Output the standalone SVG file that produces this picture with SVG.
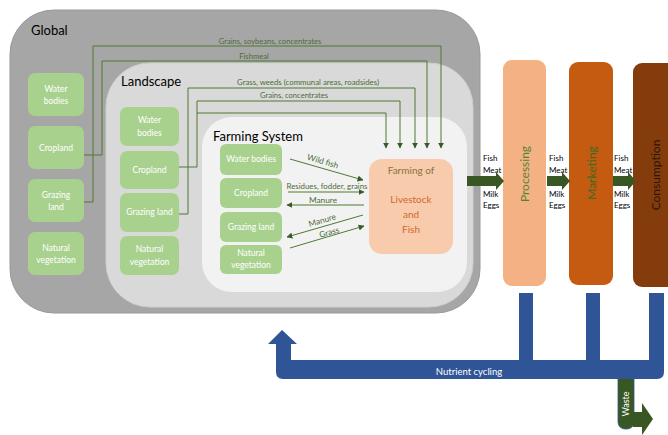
<svg xmlns="http://www.w3.org/2000/svg" width="668" height="435" viewBox="0 0 668 435">
<defs>
<style>
text{font-family:Lato,"Liberation Sans",sans-serif}
.title{font-size:13px;fill:#000}
.gb{fill:#a9d18e}
.gt{font-size:8.5px;fill:#ffffff;text-anchor:middle}
.ln{fill:none;stroke:#4f7a35;stroke-width:1}
.lbl{font-size:7.6px;fill:#4f6b35;text-anchor:middle}
.il{font-size:8.3px;fill:#4f6b35;text-anchor:middle}
.prod{font-size:8px;fill:#000}
.big{fill:#385723}
</style>
<marker id="ah" viewBox="0 0 10 10" refX="9" refY="5" markerWidth="6" markerHeight="6" orient="auto" markerUnits="userSpaceOnUse">
<path d="M0,0 L10,5 L0,10 Z" fill="#3a5a28"/>
</marker>
</defs>
<rect width="668" height="435" fill="#ffffff"/>

<g id="global">
<rect x="10" y="10" width="470" height="303" rx="44" fill="#a6a6a6" stroke="#9a9a9a" stroke-width="1"/>
<text class="title" x="31" y="35">Global</text>
</g>
<g id="landscape">
<rect x="106" y="63" width="367" height="244" rx="44" fill="#d9d9d9" stroke="#cfcfcf" stroke-width="1"/>
<text class="title" x="121" y="86">Landscape</text>
</g>
<g id="farming-system">
<rect x="202" y="117" width="265" height="175" rx="30" fill="#f2f2f2"/>
<text class="title" x="213" y="141">Farming System</text>
</g>

<g id="global-water"><rect class="gb" x="28" y="73" width="56" height="43" rx="7"/><text class="gt" x="56" y="92">Water</text><text class="gt" x="56" y="104">bodies</text></g>
<g id="global-cropland"><rect class="gb" x="28" y="126" width="56" height="43" rx="7"/><text class="gt" x="56" y="151">Cropland</text></g>
<g id="global-grazing"><rect class="gb" x="28" y="179" width="56" height="43" rx="7"/><text class="gt" x="56" y="198">Grazing</text><text class="gt" x="56" y="210">land</text></g>
<g id="global-natural"><rect class="gb" x="28" y="232" width="56" height="43" rx="7"/><text class="gt" x="56" y="251">Natural</text><text class="gt" x="56" y="263">vegetation</text></g>

<g id="land-water"><rect class="gb" x="120" y="107" width="59" height="39" rx="7"/><text class="gt" x="149.5" y="123">Water</text><text class="gt" x="149.5" y="136">bodies</text></g>
<g id="land-cropland"><rect class="gb" x="120" y="151" width="59" height="38" rx="7"/><text class="gt" x="149.5" y="173">Cropland</text></g>
<g id="land-grazing"><rect class="gb" x="120" y="193" width="59" height="39" rx="7"/><text class="gt" x="149.5" y="215">Grazing land</text></g>
<g id="land-natural"><rect class="gb" x="120" y="236" width="59" height="39" rx="7"/><text class="gt" x="149.5" y="252">Natural</text><text class="gt" x="149.5" y="265">vegetation</text></g>

<g id="fs-water"><rect class="gb" x="220" y="144" width="62" height="31" rx="6"/><text class="gt" x="251" y="162">Water bodies</text></g>
<g id="fs-cropland"><rect class="gb" x="220" y="178" width="62" height="30" rx="6"/><text class="gt" x="251" y="196">Cropland</text></g>
<g id="fs-grazing"><rect class="gb" x="220" y="212" width="62" height="30" rx="6"/><text class="gt" x="251" y="230">Grazing land</text></g>
<g id="fs-natural"><rect class="gb" x="220" y="245" width="62" height="29" rx="6"/><text class="gt" x="251" y="256">Natural</text><text class="gt" x="251" y="268">vegetation</text></g>

<g id="farming-of">
<rect x="369" y="159" width="84" height="95" rx="13" fill="#f8cbad"/>
<text x="411" y="174" font-size="10" fill="#8a7340" text-anchor="middle">Farming of</text>
<text x="411" y="203" font-size="10" fill="#d0692a" text-anchor="middle">Livestock</text>
<text x="411" y="218" font-size="10" fill="#d0692a" text-anchor="middle">and</text>
<text x="411" y="233" font-size="10" fill="#d0692a" text-anchor="middle">Fish</text>
</g>

<g id="processing">
<rect x="503" y="60" width="43" height="226" rx="9" fill="#f4b183"/>
<text x="0" y="0" font-size="12" fill="#548235" text-anchor="middle" transform="translate(528.5,174) rotate(-90)">Processing</text>
</g>
<g id="marketing">
<rect x="569" y="62" width="44" height="223" rx="9" fill="#c55a11"/>
<text x="0" y="0" font-size="12" fill="#3f6a22" text-anchor="middle" transform="translate(595.5,173) rotate(-90)">Marketing</text>
</g>
<g id="consumption">
<rect x="633" y="63" width="45" height="224" rx="9" fill="#843c0c"/>
<text x="0" y="0" font-size="12" fill="#2e1505" text-anchor="middle" transform="translate(660,175) rotate(-90)">Consumption</text>
</g>

<g id="connectors">
<polyline class="ln" points="84,202 93,202 93,46 441,46 441,148" marker-end="url(#ah)"/>
<polyline class="ln" points="84,155 102,155 102,61 427,61 427,148" marker-end="url(#ah)"/>
<polyline class="ln" points="179,214 188,214 188,88 415,88 415,148" marker-end="url(#ah)"/>
<polyline class="ln" points="179,167 197,167 197,101 400,101 400,148" marker-end="url(#ah)"/>
<polyline class="ln" points="197,113 386,113 386,148" marker-end="url(#ah)"/>
<text class="lbl" x="270" y="44">Grains, soybeans, concentrates</text>
<text class="lbl" x="254" y="59">Fishmeal</text>
<text class="lbl" x="308" y="85" textLength="142" lengthAdjust="spacingAndGlyphs">Grass, weeds (communal areas, roadsides)</text>
<text class="lbl" x="294" y="98">Grains, concentrates</text>

<line class="ln" x1="290" y1="159" x2="363" y2="180" marker-end="url(#ah)"/>
<text class="il" transform="translate(322,164) rotate(16)">Wild fish</text>
<line class="ln" x1="288" y1="192" x2="364" y2="192" marker-end="url(#ah)"/>
<text class="il" x="327" y="189" textLength="81" lengthAdjust="spacingAndGlyphs">Residues, fodder, grains</text>
<line class="ln" x1="364" y1="205" x2="287" y2="205" marker-end="url(#ah)"/>
<text class="il" x="323" y="203">Manure</text>
<line class="ln" x1="363" y1="215" x2="287" y2="237" marker-end="url(#ah)"/>
<text class="il" transform="translate(323,223) rotate(-16)">Manure</text>
<line class="ln" x1="290" y1="248" x2="364" y2="226" marker-end="url(#ah)"/>
<text class="il" transform="translate(330,235) rotate(-16)">Grass</text>

<path class="big" d="M467,176 H496 V172 L504,181 L496,190 V186 H467 Z"/>
<path class="big" d="M547,176 H562 V172 L570,181 L562,190 V186 H547 Z"/>
<path class="big" d="M613,176 H628 V172 L636,181 L628,190 V186 H613 Z"/>
<text class="prod" x="483" y="161">Fish</text><text class="prod" x="483" y="173">Meat</text><text class="prod" x="483" y="197">Milk</text><text class="prod" x="483" y="208">Eggs</text>
<text class="prod" x="549" y="161">Fish</text><text class="prod" x="549" y="173">Meat</text><text class="prod" x="549" y="197">Milk</text><text class="prod" x="549" y="208">Eggs</text>
<text class="prod" x="614" y="161">Fish</text><text class="prod" x="614" y="173">Meat</text><text class="prod" x="614" y="197">Milk</text><text class="prod" x="614" y="208">Eggs</text>

<g id="waste">
<rect x="618" y="370" width="16" height="59" rx="7" fill="#385723" stroke="#2f5597" stroke-width="0.8"/>
<path class="big" d="M633,412 H642 V403 L653,419 L642,435 V427 H633 Z"/>
<text x="0" y="0" font-size="9" fill="#ffffff" text-anchor="middle" transform="translate(629,404) rotate(-90)">Waste</text>
</g>
<g id="nutrient-cycling">
<path fill="#2f5597" d="M282,330 L297,344 H291 V360 H519 V293 H533 V360 H586 V293 H600 V360 H649 V293 H664 V372 Q664,379 657,379 H283 Q276,379 276,372 V344 H268 Z"/>
<text x="469" y="375" font-size="9.5" fill="#ffffff" text-anchor="middle">Nutrient cycling</text>
</g>
</g>
</svg>
